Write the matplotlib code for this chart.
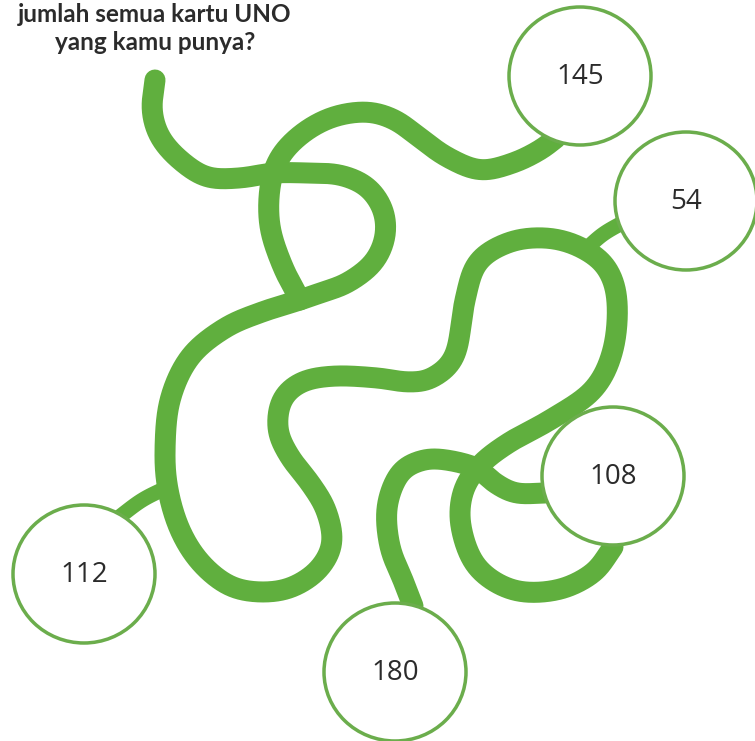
import numpy as np
import matplotlib
matplotlib.use("Agg")
import matplotlib.pyplot as plt
from matplotlib.patches import Ellipse

# ---- data (pixel coordinates of the illustration) ----
title_lines = ["jumlah semua kartu UNO", "yang kamu punya?"]

answer_labels = ["145", "54", "108", "112", "180"]
answer_x = [580, 686, 613, 84, 395]
answer_y = [76, 201, 476, 574, 672]

# main winding path from the start point
main_x = [155, 152, 160, 180, 207, 240, 273, 307, 340, 367, 383, 385, 373, 347, 320, 300,
          262, 225, 190, 170, 165, 168, 180, 200, 228, 258, 290, 318, 332, 326, 310, 290,
          278, 282, 302, 335, 378, 407, 432, 455, 465, 478, 510, 547, 580, 606, 617, 613,
          593, 550, 510, 480, 463, 461, 477, 513, 557, 593, 613]
main_y = [80, 110, 137, 160, 177, 178, 173, 173, 175, 187, 210, 237, 263, 283, 293, 300,
          312, 328, 357, 400, 450, 490, 530, 562, 585, 592, 588, 570, 543, 510, 483, 457,
          430, 400, 382, 376, 378, 382, 378, 355, 300, 262, 242, 238, 247, 267, 300, 350,
          390, 420, 442, 465, 492, 527, 567, 590, 590, 573, 547]

# wave to 145
wave_x = [300, 283, 270, 270, 280, 303, 333, 367, 395, 420, 447, 480, 513, 540, 556]
wave_y = [300, 267, 227, 187, 157, 133, 117, 112, 120, 138, 157, 170, 163, 150, 138]

# path from 180 to 108
low_x = [413, 403, 390, 387, 400, 423, 447, 477, 492, 515, 545]
low_y = [606, 580, 547, 507, 473, 460, 460, 468, 481, 493, 493]

# connectors
c112_x = [166, 142, 118]
c112_y = [488, 500, 518]
c54_x = [585, 603, 624]
c54_y = [250, 234, 222]

GREEN = "#60AF3E"
EDGE = "#6BAD4C"


def smooth(xs, ys, n=20, sigma=6.0):
    p = np.column_stack([xs, ys]).astype(float)
    p = np.vstack([2 * p[0] - p[1], p, 2 * p[-1] - p[-2]])
    out = []
    for i in range(1, len(p) - 2):
        p0, p1, p2, p3 = p[i - 1], p[i], p[i + 1], p[i + 2]
        t = np.linspace(0, 1, n, endpoint=False)[:, None]
        seg = 0.5 * ((2 * p1) + (-p0 + p2) * t + (2 * p0 - 5 * p1 + 4 * p2 - p3) * t ** 2
                     + (-p0 + 3 * p1 - 3 * p2 + p3) * t ** 3)
        out.append(seg)
    out.append(p[-2][None, :])
    a = np.vstack(out)
    # resample by arc length (1 px) and gaussian-smooth to remove kinks
    d = np.r_[0, np.cumsum(np.hypot(*np.diff(a, axis=0).T))]
    s = np.arange(0, d[-1], 1.0)
    s = np.r_[s, d[-1]]
    x = np.interp(s, d, a[:, 0])
    y = np.interp(s, d, a[:, 1])
    k = int(3 * sigma)
    ker = np.exp(-0.5 * (np.arange(-k, k + 1) / sigma) ** 2)
    ker /= ker.sum()
    xp = np.r_[2 * x[0] - x[k:0:-1], x, 2 * x[-1] - x[-2:-k - 2:-1]]
    yp = np.r_[2 * y[0] - y[k:0:-1], y, 2 * y[-1] - y[-2:-k - 2:-1]]
    return np.convolve(xp, ker, "valid"), np.convolve(yp, ker, "valid")


W, H = 755, 741
fig = plt.figure(figsize=(W / 100, H / 100), dpi=100)
ax = fig.add_axes([0, 0, 1, 1])
ax.set_xlim(0, W)
ax.set_ylim(H, 0)
ax.axis("off")

px = 72 / 100
for xs, ys, lw in [(main_x, main_y, 21), (wave_x, wave_y, 21), (low_x, low_y, 21),
                   (c112_x, c112_y, 15), (c54_x, c54_y, 15)]:
    sx, sy = smooth(xs, ys)
    ax.plot(sx, sy, color=GREEN, lw=lw * px, solid_capstyle="round",
            solid_joinstyle="round", zorder=2)

for lab, x, y in zip(answer_labels, answer_x, answer_y):
    ax.add_patch(Ellipse((x, y), 142, 138, facecolor="white", edgecolor=EDGE,
                         lw=3.5 * px, zorder=3))
    ax.text(x, y + 1, lab, ha="center", va="center", fontsize=20, color="#2b2b2b",
            family="Open Sans", zorder=4)

for i, t in enumerate(title_lines):
    ax.text(155, 15 + i * 28, t, ha="center", va="center", fontsize=17.5,
            color="#2b2b2b", family="Lato", fontweight="bold", zorder=4)

fig.savefig("out.png", dpi=100)
